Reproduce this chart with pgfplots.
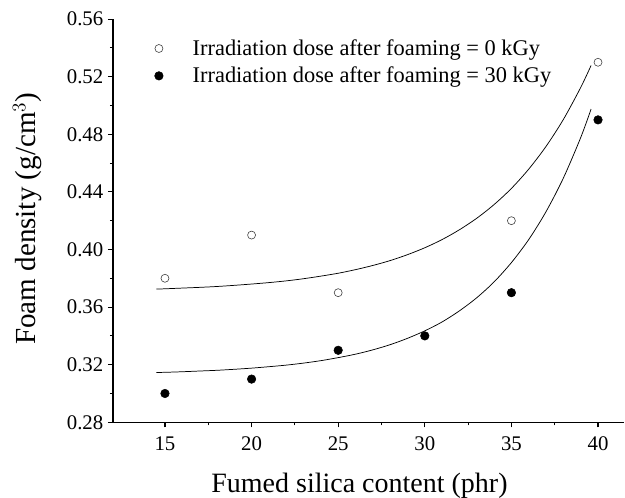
\documentclass[border=0pt]{standalone}
\usepackage{pgfplots}
\pgfplotsset{compat=1.18}
\usepackage{fontspec}
\setmainfont{Liberation Serif}

\pgfplotsset{
  wide mark legend/.style={legend image code/.code={%
    \draw[##1] plot coordinates {(0.29cm,0cm)};
    \path[draw=none, fill=none] (0cm,0cm) (1.11cm,0cm);}},
}

\begin{document}
\begin{tikzpicture}
\begin{axis}[
  at={(84.75pt,56.78pt)}, anchor=south west,
  scale only axis, width=383.25pt, height=302.4pt,
  xmin=12, xmax=41.5, ymin=0.28, ymax=0.56,
  axis lines*=left,
  axis line style={line width=0.9pt},
  tick style={line width=0.8pt, black},
  tick align=outside,
  major tick length=3.75pt, minor tick length=2.25pt,
  xtick={15,20,...,40}, minor x tick num=1,
  ytick={0.28,0.32,...,0.57}, minor y tick num=1,
  /pgf/number format/assume math mode=true,
  yticklabel style={/pgf/number format/.cd, fixed, fixed zerofill, precision=2},
  xticklabel style={yshift=-3.5pt},
  ticklabel style={font=\fontsize{15.6}{18}\selectfont},
  xlabel={Fumed silica content (phr)},
  ylabel={Foam density (g/cm$^{3}$)},
  xlabel style={font=\fontsize{21}{25}\selectfont, yshift=-10pt, xshift=-6.75pt},
  ylabel style={font=\fontsize{21.8}{26}\selectfont, yshift=12pt, xshift=1.5pt},
  legend style={draw=none, fill=none, at={(axis description cs:0.06,0.963)}, anchor=north west,
    font=\fontsize{16.8}{19.5}\selectfont, row sep=3.2pt},
  legend cell align=left,
  clip=false,
]
% measured densities, 0 kGy after foaming
\addplot[only marks, wide mark legend, mark=o, mark size=3pt, mark options={draw=black!75, line width=0.45pt}]
  coordinates {(15,0.38) (20,0.41) (25,0.37) (35,0.42) (40,0.53)};
\addlegendentry{Irradiation dose after foaming = 0 kGy}
% measured densities, 30 kGy after foaming
\addplot[only marks, wide mark legend, mark=*, mark size=3.2pt, black]
  coordinates {(15,0.30) (20,0.31) (25,0.33) (30,0.34) (35,0.37) (40,0.49)};
\addlegendentry{Irradiation dose after foaming = 30 kGy}
% fitted trend, 0 kGy
\addplot[forget plot, black, line width=0.55pt, smooth] coordinates {
  (14.5,0.3725) (15,0.3727) (16,0.3732) (17,0.3737) (18,0.3743) (19,0.3751)
  (20,0.3760) (21,0.3770) (22,0.3782) (23,0.3797) (24,0.3815) (25,0.3835)
  (26,0.3860) (27,0.3889) (28,0.3923) (29,0.3964) (30,0.4012) (31,0.4069)
  (32,0.4137) (33,0.4217) (34,0.4312) (35,0.4424) (36,0.4558) (37,0.4716)
  (38,0.4903) (39,0.5125) (39.6,0.5278)};
% fitted trend, 30 kGy
\addplot[forget plot, black, line width=0.55pt, smooth] coordinates {
  (14.5,0.3146) (15,0.3147) (16,0.3151) (17,0.3156) (18,0.3161) (19,0.3168)
  (20,0.3176) (21,0.3186) (22,0.3197) (23,0.3211) (24,0.3228) (25,0.3249)
  (26,0.3273) (27,0.3303) (28,0.3339) (29,0.3383) (30,0.3435) (31,0.3497)
  (32,0.3574) (33,0.3665) (34,0.3775) (35,0.3909) (36,0.4069) (37,0.4263)
  (38,0.4496) (39,0.4777) (39.6,0.4975)};
\end{axis}
\pgfresetboundingbox
\path (0,0) rectangle (468.75pt,373.5pt);
\end{tikzpicture}
\end{document}
